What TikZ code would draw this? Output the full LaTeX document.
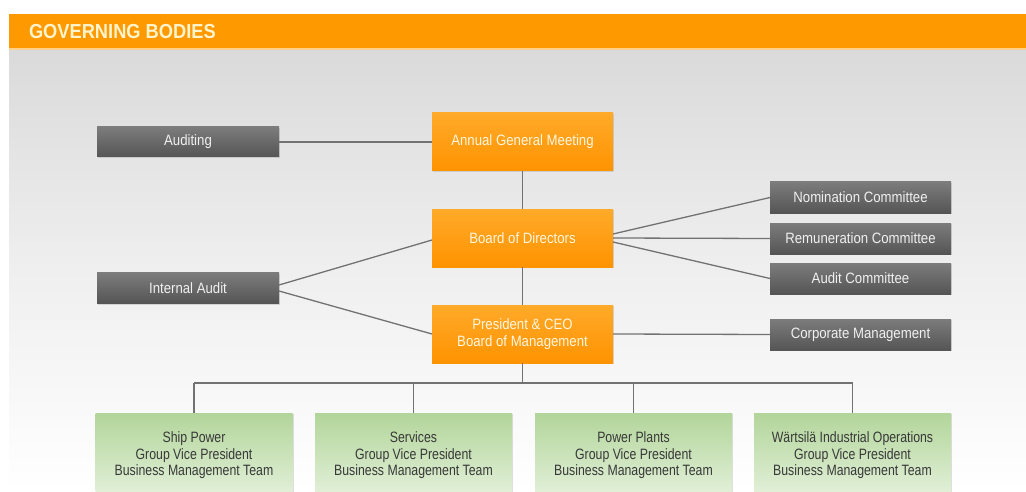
\documentclass[tikz,border=0pt]{standalone}
\usepackage{fontspec}
\setmainfont{Liberation Sans}
\newfontfamily\boxfont{Liberation Sans}[FakeStretch=0.88]
\newfontfamily\greenfont{Liberation Sans}[FakeStretch=0.82]
\newfontfamily\titlefont{Liberation Sans}[FakeStretch=0.9]
\usetikzlibrary{shadows}
\definecolor{barorange}{HTML}{FF9900}
\definecolor{bgtop}{HTML}{DADADA}
\definecolor{bgmid}{HTML}{EFEFEF}
\definecolor{ortop}{HTML}{FFAA2A}
\definecolor{orbot}{HTML}{FF9300}
\definecolor{ortext}{HTML}{FFF6E0}
\definecolor{grtop}{HTML}{7C7C7C}
\definecolor{grbot}{HTML}{555555}
\definecolor{gntop}{HTML}{B2D59A}
\definecolor{gnbot}{HTML}{E4F1DB}
\definecolor{gntext}{HTML}{383838}
\definecolor{linecol}{HTML}{727272}
\definecolor{titletext}{HTML}{FFF4CC}
\begin{document}
\begin{tikzpicture}[x=1pt,y=-1pt,
  every node/.style={inner sep=0pt, outer sep=0pt},
  boxshadow/.style={drop shadow={opacity=0.25, shadow xshift=1pt, shadow yshift=-1.2pt}},
  orangebox/.style={rectangle, minimum width=181pt, minimum height=58pt,
    top color=ortop, bottom color=orbot, text=ortext, align=center,
    font=\boxfont\fontsize{15}{17}\selectfont, boxshadow},
  graybox/.style={rectangle, minimum width=181pt, minimum height=31pt,
    top color=grtop, bottom color=grbot, text=white!94!black, align=center,
    font=\boxfont\fontsize{15}{17}\selectfont, boxshadow},
  greenbox/.style={rectangle, minimum width=197pt, minimum height=85pt,
    top color=gntop, bottom color=gnbot, text=gntext, align=center,
    font=\greenfont\fontsize{15}{16.5}\selectfont, boxshadow},
  conn/.style={draw=linecol, line width=1.3pt}
]
\useasboundingbox (0,0) rectangle (1026,492);
\fill[white] (0,0) rectangle (1026,492);
\shade[top color=bgtop, bottom color=white, middle color=bgmid] (9,48) rectangle (1026,492);
\fill[barorange] (9,14) rectangle (1026,48);
\fill[barorange!45!white] (9,48) rectangle (1026,50);
\node[anchor=west, text=titletext, font=\titlefont\bfseries\fontsize{20.3}{22}\selectfont] (title) at (29,32) {GOVERNING BODIES};

% nodes
\node[graybox, minimum width=182pt, minimum height=30pt] (auditing) at (188,142) {Auditing};
\node[orangebox] (agm) at (522.5,142) {Annual General Meeting};
\node[orangebox] (bod) at (522.5,238) {Board of Directors};
\node[graybox, minimum width=182pt] (ia) at (188,288) {Internal Audit};
\node[orangebox] (pceo) at (522.5,334) {President \& CEO\\Board of Management};
\node[graybox] (nom) at (860.5,197.5) {Nomination Committee};
\node[graybox] (rem) at (860.5,238.5) {Remuneration Committee};
\node[graybox] (acom) at (860.5,278.5) {Audit Committee};
\node[graybox] (corp) at (860.5,334.5) {Corporate Management};
\node[greenbox] (g1) at (194,455.5) {Ship Power\\Group Vice President\\Business Management Team};
\node[greenbox] (g2) at (413.5,455.5) {Services\\Group Vice President\\Business Management Team};
\node[greenbox] (g3) at (633.5,455.5) {Power Plants\\Group Vice President\\Business Management Team};
\node[greenbox] (g4) at (852.5,455.5) {Wärtsilä Industrial Operations\\Group Vice President\\Business Management Team};

% connectors
\draw[conn] (auditing.east) -- (agm.west);
\draw[conn] (agm.south) -- (bod.north);
\draw[conn] (bod.south) -- (pceo.north);
\draw[conn] ([yshift=3pt]ia.east) -- ([yshift=-2pt]bod.west);
\draw[conn] ([yshift=-3pt]ia.east) -- (pceo.west);
\draw[conn] ([yshift=4pt]bod.east) -- (nom.west);
\draw[conn] (bod.east) -- (rem.west);
\draw[conn] ([yshift=-4pt]bod.east) -- (acom.west);
\draw[conn] (pceo.east) -- (corp.west);
\coordinate (hub) at (522.5,383);
\draw[conn] (pceo.south) -- (hub);
\draw[conn] (g1.north |- hub) -- (g4.north |- hub);
\draw[conn] (g1.north |- hub) -- (g1.north);
\draw[conn] (g2.north |- hub) -- (g2.north);
\draw[conn] (g3.north |- hub) -- (g3.north);
\draw[conn] (g4.north |- hub) -- (g4.north);
\end{tikzpicture}
\end{document}
